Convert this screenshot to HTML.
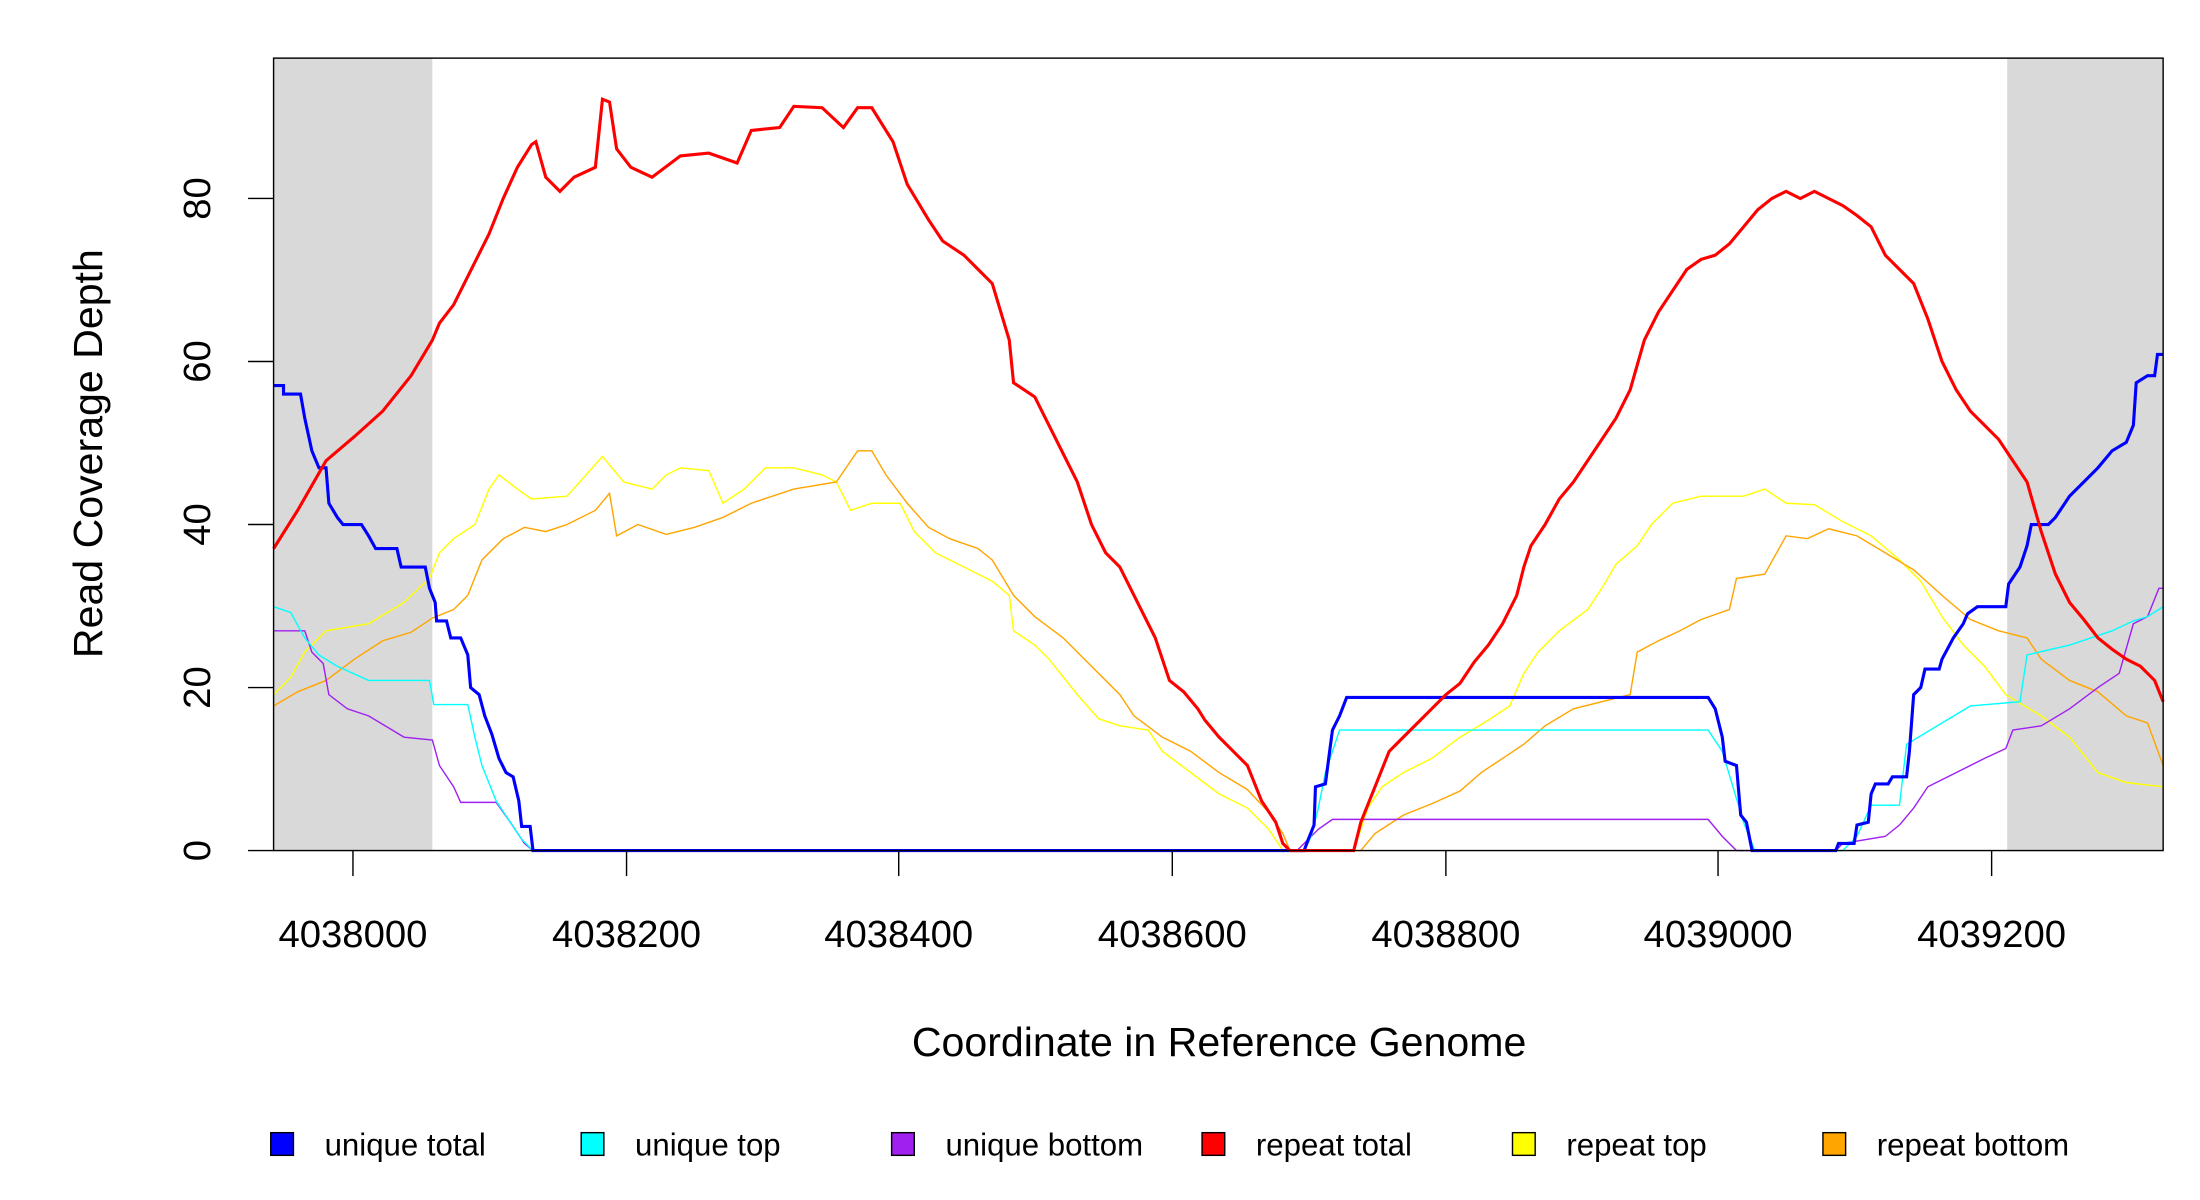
<!DOCTYPE html>
<html><head><meta charset="utf-8"><style>html,body{margin:0;padding:0;background:#fff}svg{display:block}</style></head>
<body>
<svg width="2200" height="1200" viewBox="0 0 1552 846.5" preserveAspectRatio="none" xmlns="http://www.w3.org/2000/svg" font-family="Liberation Sans, sans-serif">
<rect width="1552" height="846.5" fill="#fff"/>
<rect x="193" y="41" width="112" height="559" fill="#d9d9d9"/>
<rect x="1416" y="41" width="110" height="559" fill="#d9d9d9"/>
<g fill="none" stroke-linejoin="miter">
<polyline stroke="#ffff00" stroke-width="1" points="193,490 205,478 215,460 230,445 260,440 285,425 303,408 310,390 320,380 335,370 345,345 352,335 365,345 375,352 400,350 425,322 440,340 460,345 470,335 480,330 500,332 510,355 525,345 540,330 560,330 580,335 590,340 600,360 615,355 635,355 645,375 660,390 680,400 700,410 712,420 715,445 730,455 740,465 760,490 775,507 790,512 810,515 820,530 840,545 860,560 880,570 895,585 905,600 955,600 965,570 975,555 990,545 1010,535 1030,520 1050,508 1065,498 1075,475 1085,460 1100,445 1120,430 1130,415 1140,398 1155,385 1165,370 1180,355 1200,350 1230,350 1245,345 1260,355 1280,356 1300,368 1320,378 1340,395 1355,410 1370,435 1385,455 1400,470 1415,490 1440,505 1460,520 1480,545 1500,552 1526,555"/>
<polyline stroke="#ffa500" stroke-width="1" points="193,498 210,488 230,480 250,465 270,452 290,446 305,436 320,430 330,420 340,395 355,380 370,372 385,375 400,370 420,360 430,348 435,378 450,370 470,377 490,372 510,365 530,355 560,345 590,340 605,318 615,318 625,335 640,355 655,372 670,380 690,387 700,395 715,420 730,435 750,450 770,470 790,490 800,505 820,520 840,530 860,545 880,557 895,573 905,588 910,600 960,600 970,588 990,575 1010,567 1030,558 1045,545 1060,535 1075,525 1090,512 1110,500 1130,495 1150,490 1155,460 1170,452 1185,445 1200,437 1220,430 1225,408 1245,405 1260,378 1275,380 1290,373 1310,378 1330,390 1350,402 1370,420 1390,437 1410,445 1430,450 1440,465 1460,480 1480,488 1500,505 1515,510 1526,540"/>
<polyline stroke="#a020f0" stroke-width="1" points="193,445 215,445 220,460 228,468 232,490 245,500 260,505 285,520 305,522 310,540 320,555 325,566 350,566 360,580 370,595 376,600 915,600 930,585 940,578 1205,578 1215,590 1225,600 1295,600 1300,595 1330,590 1340,582 1350,570 1360,555 1380,545 1400,535 1415,528 1420,515 1440,512 1460,500 1480,485 1495,475 1505,440 1515,435 1523,415 1526,415"/>
<polyline stroke="#00ffff" stroke-width="1" points="193,428 205,432 215,450 225,462 238,470 260,480 303,480 306,497 330,497 335,520 340,540 350,565 360,580 368,592 376,600 920,600 925,590 930,570 935,545 945,515 1205,515 1215,530 1230,580 1238,600 1300,600 1310,590 1320,568 1340,568 1345,525 1370,510 1390,498 1425,495 1430,462 1460,455 1490,445 1505,438 1515,435 1526,428"/>
<polyline stroke="#0000ff" stroke-width="2.2" points="193,272 200,272 200,278 212,278 215,295 220,318 225,330 230,330 232,355 238,365 242,370 255,370 260,378 265,387 280,387 283,400 300,400 303,415 307,425 308,438 315,438 318,450 325,450 330,462 332,485 338,490 342,505 347,518 352,535 357,545 362,548 366,565 368,583 374,583 376,600 920,600 923,592 927,582 928,555 935,553 938,530 940,515 945,505 950,492 1205,492 1210,500 1215,520 1217,537 1225,540 1228,575 1232,580 1236,600 1295,600 1297,595 1308,595 1310,582 1318,580 1320,560 1323,553 1332,553 1335,548 1345,548 1347,530 1350,490 1355,485 1358,472 1368,472 1370,465 1378,450 1385,440 1388,433 1395,428 1415,428 1417,412 1425,400 1430,385 1433,370 1445,370 1450,365 1460,350 1470,340 1480,330 1490,318 1500,312 1505,300 1507,270 1515,265 1520,265 1522,250 1526,250"/>
<polyline stroke="#ff0000" stroke-width="2.2" points="193,387 210,360 230,325 250,308 270,290 290,265 305,240 310,228 320,215 330,195 345,165 355,140 365,118 375,102 378,100 385,125 395,135 405,125 420,118 425,70 430,72 435,105 445,118 460,125 480,110 500,108 520,115 530,92 550,90 560,75 580,76 595,90 605,76 615,76 630,100 640,130 655,155 665,170 680,180 690,190 700,200 712,240 715,270 730,280 740,300 750,320 760,340 770,370 780,390 790,400 800,420 810,440 815,450 825,480 835,488 845,500 850,508 860,520 870,530 880,540 890,565 900,580 905,595 910,600 955,600 960,580 970,555 980,530 990,520 1000,510 1010,500 1020,490 1030,482 1040,467 1050,455 1060,440 1070,420 1075,400 1080,385 1090,370 1100,352 1110,340 1120,325 1130,310 1140,295 1150,275 1160,240 1170,220 1180,205 1190,190 1200,183 1210,180 1220,172 1230,160 1240,148 1250,140 1260,135 1270,140 1280,135 1290,140 1300,145 1310,152 1320,160 1330,180 1340,190 1350,200 1360,225 1370,255 1380,275 1390,290 1400,300 1410,310 1420,325 1430,340 1440,375 1450,405 1460,425 1470,437 1480,450 1490,458 1500,465 1510,470 1520,480 1526,495"/>
</g>
<rect x="193" y="41" width="1333" height="559" fill="none" stroke="#000" stroke-width="1"/>
<g stroke="#000" stroke-width="1">
<line x1="175" y1="600" x2="193" y2="600"/><line x1="175" y1="485" x2="193" y2="485"/><line x1="175" y1="370" x2="193" y2="370"/><line x1="175" y1="255" x2="193" y2="255"/><line x1="175" y1="140" x2="193" y2="140"/>
<line x1="249" y1="600" x2="249" y2="618"/><line x1="442" y1="600" x2="442" y2="618"/><line x1="634" y1="600" x2="634" y2="618"/><line x1="827" y1="600" x2="827" y2="618"/><line x1="1020" y1="600" x2="1020" y2="618"/><line x1="1212" y1="600" x2="1212" y2="618"/><line x1="1405" y1="600" x2="1405" y2="618"/>
</g>
<g font-size="27" text-anchor="middle" fill="#000">
<text x="249" y="668">4038000</text><text x="442" y="668">4038200</text><text x="634" y="668">4038400</text><text x="827" y="668">4038600</text><text x="1020" y="668">4038800</text><text x="1212" y="668">4039000</text><text x="1405" y="668">4039200</text>
<g transform="translate(148,0)"><text transform="translate(0,600) rotate(-90)">0</text><text transform="translate(0,485) rotate(-90)">20</text><text transform="translate(0,370) rotate(-90)">40</text><text transform="translate(0,255) rotate(-90)">60</text><text transform="translate(0,140) rotate(-90)">80</text></g>
<text x="860" y="745" font-size="29">Coordinate in Reference Genome</text>
<text transform="translate(72,320) rotate(-90)" font-size="29">Read Coverage Depth</text>
</g>
<g font-size="22" fill="#000" stroke-width="1">
<rect x="191" y="799" width="16" height="16" fill="#0000ff" stroke="#000"/><text x="229" y="815">unique total</text>
<rect x="410" y="799" width="16" height="16" fill="#00ffff" stroke="#000"/><text x="448" y="815">unique top</text>
<rect x="629" y="799" width="16" height="16" fill="#a020f0" stroke="#000"/><text x="667" y="815">unique bottom</text>
<rect x="848" y="799" width="16" height="16" fill="#ff0000" stroke="#000"/><text x="886" y="815">repeat total</text>
<rect x="1067" y="799" width="16" height="16" fill="#ffff00" stroke="#000"/><text x="1105" y="815">repeat top</text>
<rect x="1286" y="799" width="16" height="16" fill="#ffa500" stroke="#000"/><text x="1324" y="815">repeat bottom</text>
</g>
</svg>
</body></html>
